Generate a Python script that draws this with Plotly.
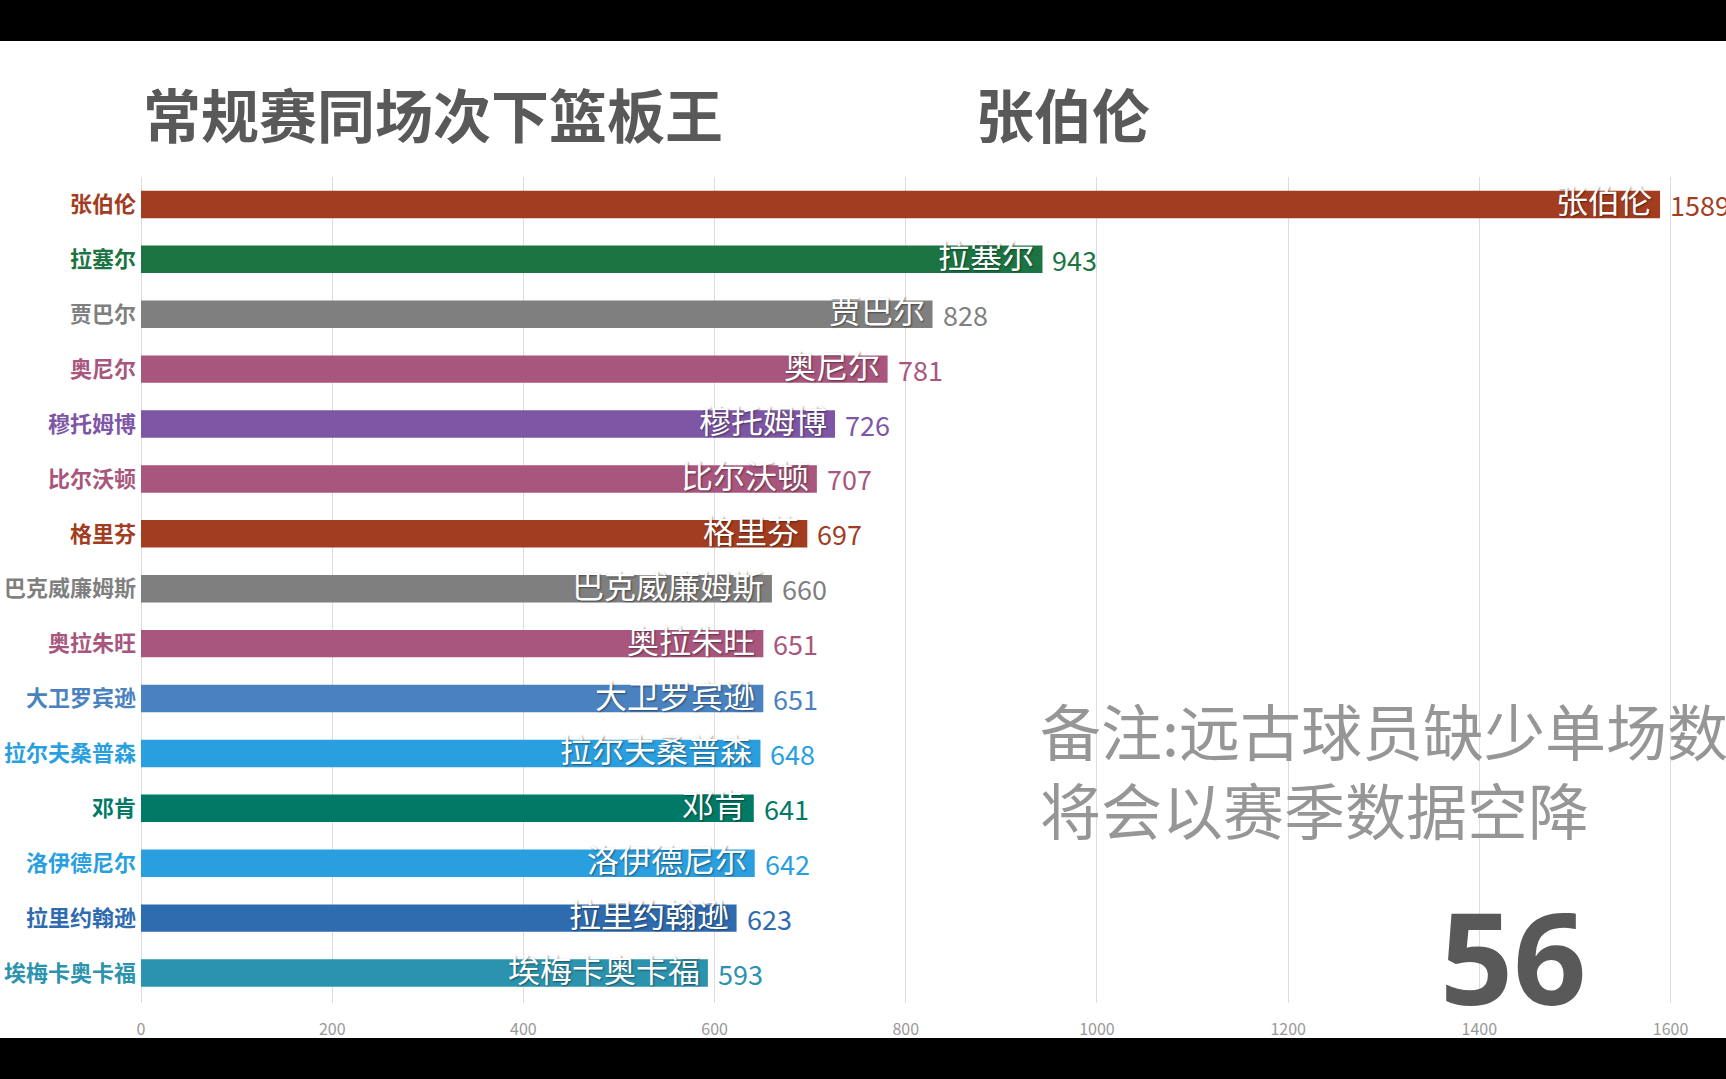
import plotly.graph_objects as go

# 常规赛同场次下篮板王 —— 第56帧
players = ['张伯伦', '拉塞尔', '贾巴尔', '奥尼尔', '穆托姆博', '比尔沃顿', '格里芬', '巴克威廉姆斯',
           '奥拉朱旺', '大卫罗宾逊', '拉尔夫桑普森', '邓肯', '洛伊德尼尔', '拉里约翰逊', '埃梅卡奥卡福']
rebounds = [1589, 943, 828, 781, 726, 707, 697, 660, 651, 651, 648, 641, 642, 623, 593]
colors = ['#A33D1F', '#1B7442', '#7F7F7F', '#A8567D', '#7E56A6', '#A8567D', '#A33D1F', '#7F7F7F',
          '#A8567D', '#4A82C0', '#2A9FE0', '#007A66', '#2A9FE0', '#2E6BAF', '#2B93AE']
frame_no = '56'
title_main = '常规赛同场次下篮板王'
leader = '张伯伦'
note = '备注:远古球员缺少单场数据<br>将会以赛季数据空降'

FONT = 'Noto Sans CJK SC'

fig = go.Figure(go.Bar(
    x=rebounds, y=players, orientation='h',
    marker=dict(color=colors, line=dict(width=0)),
    hoverinfo='x+y'
))

# 名字(柱内)和数值(柱外)
for p, v, c in zip(players, rebounds, colors):
    fig.add_annotation(x=v, y=p, text=p, showarrow=False, xanchor='right', yanchor='middle',
                       xshift=-6, yshift=5,
                       font=dict(family=FONT, size=32, color='white',
                                 shadow='1px 1px 2px rgba(0,0,0,0.45)'))
    fig.add_annotation(x=v, y=p, text=str(v), showarrow=False, xanchor='left', yanchor='middle',
                       xshift=8, font=dict(family=FONT, size=27, color=c))

# 标题
fig.add_annotation(x=0.0, y=1.077, xref='paper', yref='paper', text='<b>' + title_main + '</b>',
                   showarrow=False, xanchor='left', yanchor='middle',
                   font=dict(family=FONT, size=58, color='#595959'))
fig.add_annotation(x=0.5256, y=1.077, xref='paper', yref='paper', text='<b>' + leader + '</b>',
                   showarrow=False, xanchor='left', yanchor='middle',
                   font=dict(family=FONT, size=58, color='#595959'))
# 备注
fig.add_annotation(x=0.566, y=0.283, xref='paper', yref='paper', text=note, align='left',
                   showarrow=False, xanchor='left', yanchor='middle',
                   font=dict(family=FONT, size=61, color='#969696'))
# 场次
fig.add_annotation(x=0.8656, y=0.058, xref='paper', yref='paper', text='<b>' + frame_no + '</b>',
                   showarrow=False, xanchor='center', yanchor='middle',
                   font=dict(family='Open Sans', size=128, color='#595959'))

# 上下黑边
fig.add_shape(type='rect', xref='paper', yref='paper', x0=-0.2, x1=1.2, y0=1.1646, y1=1.4,
              fillcolor='black', line=dict(width=0), layer='above')
fig.add_shape(type='rect', xref='paper', yref='paper', x0=-0.2, x1=1.2, y0=-0.2, y1=-0.0424,
              fillcolor='black', line=dict(width=0), layer='above')

ticktext = ['<b><span style="color:%s">%s</span></b>' % (c, p) for p, c in zip(players, colors)]

fig.update_layout(
    width=1726, height=1079,
    margin=dict(l=141, r=0, t=177, b=76, autoexpand=False),
    paper_bgcolor='white', plot_bgcolor='white',
    bargap=0.5, showlegend=False,
    font=dict(family=FONT, color='#595959'),
    xaxis=dict(range=[0, 1658], dtick=200, showgrid=True, gridcolor='#dddddd', gridwidth=1,
               zeroline=True, zerolinecolor='#dddddd', zerolinewidth=1, showline=False,
               tickfont=dict(family=FONT, size=16, color='#999999'), ticklabelstandoff=15,
               fixedrange=True),
    yaxis=dict(categoryorder='array', categoryarray=players, autorange='reversed',
               tickmode='array', tickvals=players, ticktext=ticktext, showgrid=False,
               tickfont=dict(family=FONT, size=22), ticklabelstandoff=4, fixedrange=True),
)

fig.write_html('out.html', config={'displayModeBar': False},
               post_script="document.body.style.margin='0px';")
